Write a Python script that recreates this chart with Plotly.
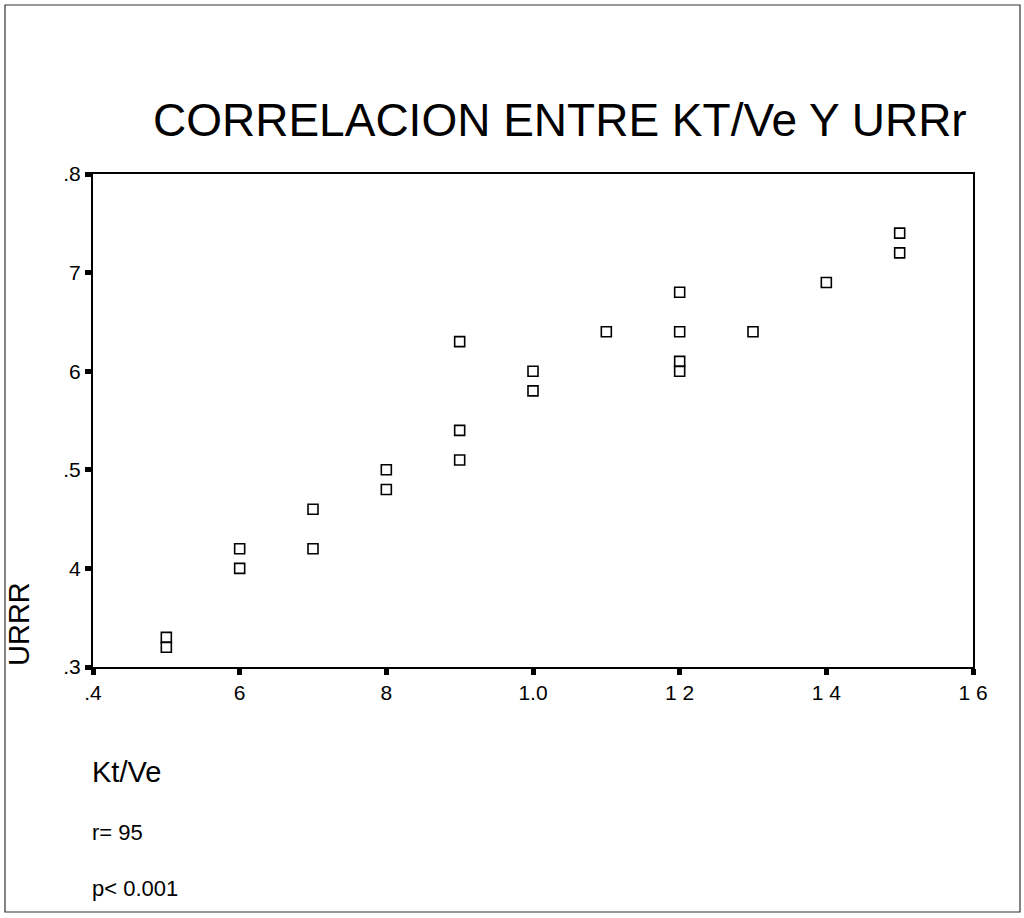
import plotly.graph_objects as go

# ---- data ----
kt_ve = [0.5, 0.5, 0.6, 0.6, 0.7, 0.7, 0.8, 0.8, 0.9, 0.9, 0.9, 1.0, 1.0,
         1.1, 1.2, 1.2, 1.2, 1.2, 1.3, 1.4, 1.5, 1.5]
urrr = [0.33, 0.32, 0.42, 0.40, 0.46, 0.42, 0.50, 0.48, 0.63, 0.54, 0.51, 0.60, 0.58,
        0.64, 0.68, 0.64, 0.61, 0.60, 0.64, 0.69, 0.74, 0.72]

x_tickvals = [0.4, 0.6, 0.8, 1.0, 1.2, 1.4, 1.6]
x_ticktext = [".4", "6", "8", "1.0", "1 2", "1 4", "1 6"]
y_tickvals = [0.3, 0.4, 0.5, 0.6, 0.7, 0.8]
y_ticktext = [".3", "4", ".5", "6", "7", ".8"]

title_text = "CORRELACION ENTRE KT/Ve Y URRr"
y_title = "URRR"
x_title = "Kt/Ve"
stat_r = "r= 95"
stat_p = "p< 0.001"

# ---- layout geometry (pixels) ----
W, H = 1024, 918
L, R, T, B = 93, 51, 174, 251
PW, PH = W - L - R, H - T - B

def px(x):
    return (x - L) / PW

def py(y):
    return (H - B - y) / PH

FONT = "Liberation Sans, Arial, sans-serif"

fig = go.Figure()
fig.add_trace(go.Scatter(
    x=kt_ve, y=urrr, mode="markers",
    marker=dict(symbol="square-open", size=10, color="black", line=dict(width=1.6, color="black")),
    showlegend=False, hoverinfo="x+y"))

axis_common = dict(showgrid=False, zeroline=False, showline=True, linecolor="black",
                   linewidth=2, mirror=True, ticks="outside", ticklen=6, tickwidth=5,
                   tickcolor="black", tickfont=dict(family=FONT, size=21, color="black"))

fig.update_xaxes(range=[0.4, 1.6], tickmode="array", tickvals=x_tickvals, ticktext=x_ticktext,
                 **axis_common)
fig.update_yaxes(range=[0.3, 0.8], tickmode="array", tickvals=y_tickvals, ticktext=y_ticktext,
                 **axis_common)

annotations = [
    dict(text=title_text, x=px(560), y=py(120), xref="paper", yref="paper",
         xanchor="center", yanchor="middle", showarrow=False,
         font=dict(family=FONT, size=46, color="black")),
    dict(text=y_title, x=px(19), y=py(624), xref="paper", yref="paper",
         xanchor="center", yanchor="middle", showarrow=False, textangle=-90,
         font=dict(family=FONT, size=29, color="black")),
    dict(text=x_title, x=px(90), y=py(772), xref="paper", yref="paper",
         xanchor="left", yanchor="middle", showarrow=False,
         font=dict(family=FONT, size=29, color="black")),
    dict(text=stat_r, x=px(90), y=py(832), xref="paper", yref="paper",
         xanchor="left", yanchor="middle", showarrow=False,
         font=dict(family=FONT, size=22, color="black")),
    dict(text=stat_p, x=px(90), y=py(888), xref="paper", yref="paper",
         xanchor="left", yanchor="middle", showarrow=False,
         font=dict(family=FONT, size=22, color="black")),
]

shapes = [
    dict(type="rect", xref="paper", yref="paper",
         x0=px(5), x1=px(1020), y0=py(912), y1=py(5),
         line=dict(color="#333333", width=1.2), fillcolor="rgba(0,0,0,0)", layer="below"),
]

fig.update_layout(
    width=W, height=H,
    margin=dict(l=L, r=R, t=T, b=B, autoexpand=False),
    paper_bgcolor="white", plot_bgcolor="white",
    annotations=annotations, shapes=shapes,
    font=dict(family=FONT, color="black"),
)

fig.write_html("out.html")
